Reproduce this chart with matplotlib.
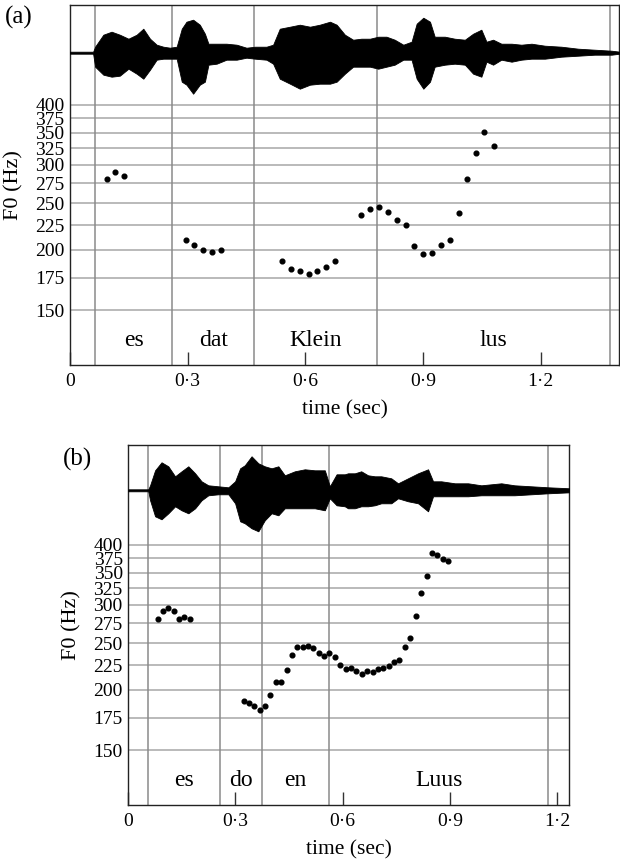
import numpy as np
import matplotlib
matplotlib.use('Agg')
import matplotlib.pyplot as plt
from matplotlib.ticker import NullLocator

plt.rcParams['font.family'] = ['Liberation Serif', 'DejaVu Serif']

# ---- panel (a) ----
a_bounds = [0.063, 0.261, 0.470, 0.784, 1.376]
a_words = ['es', 'dat', 'Klein', 'lus']
a_t = [0.094, 0.116, 0.138,
       0.295, 0.317, 0.339, 0.362, 0.384,
       0.541, 0.564, 0.586, 0.609, 0.631, 0.653, 0.675,
       0.743, 0.766, 0.788, 0.811, 0.833, 0.856, 0.878, 0.901, 0.923,
       0.945, 0.968, 0.991, 1.013, 1.035, 1.057, 1.080]
a_f0 = [281, 290, 284,
        210, 205, 200, 198, 200,
        190, 183, 181, 178, 181, 184, 190,
        236.5, 243, 245, 240, 231, 225.5, 203.5, 196, 197,
        205, 210, 239, 281, 318, 351, 328.5]
# waveform envelope (upper / lower amplitude)
a_env_t = [0.0, 0.059, 0.064, 0.085, 0.106, 0.127, 0.149, 0.170, 0.187, 0.204,
           0.221, 0.238, 0.255, 0.272, 0.285, 0.297, 0.314, 0.331, 0.344, 0.353,
           0.374, 0.399, 0.425, 0.450, 0.472, 0.501, 0.518, 0.535, 0.561, 0.586,
           0.612, 0.637, 0.663, 0.680, 0.701, 0.722, 0.743, 0.765, 0.786, 0.807,
           0.828, 0.850, 0.871, 0.884, 0.901, 0.918, 0.930, 0.956, 0.981, 1.007,
           1.028, 1.049, 1.062, 1.079, 1.100, 1.126, 1.151, 1.177, 1.211, 1.253,
           1.296, 1.338, 1.381, 1.402]
a_env_up = [1, 1, 6, 18, 21, 18, 14, 18, 24, 14,
            8, 6, 5, 6, 24, 31, 33, 28, 19, 9,
            9, 9, 8, 5, 6, 6, 8, 24, 26, 28,
            26, 28, 31, 28, 18, 13, 14, 14, 16, 16,
            13, 8, 11, 29, 35, 31, 16, 16, 14, 13,
            19, 23, 11, 13, 9, 9, 8, 9, 7, 6,
            4, 3, 2, 1]
a_env_dn = [1, 1, 14, 22, 24, 23, 16, 21, 26, 17,
            7, 6, 6, 6, 29, 32, 41, 32, 29, 12,
            11, 7, 7, 5, 6, 7, 11, 26, 31, 36,
            32, 31, 31, 29, 21, 14, 14, 14, 16, 14,
            12, 7, 7, 26, 36, 29, 14, 12, 11, 12,
            21, 24, 9, 12, 7, 9, 7, 6, 6, 4,
            3, 2, 2, 1]

# ---- panel (b) ----
b_bounds = [0.056, 0.256, 0.373, 0.5625, 1.176]
b_words = ['es', 'do', 'en', 'Luus']
b_t = [0.082, 0.097, 0.112, 0.127, 0.142, 0.157, 0.173,
       0.323, 0.338, 0.353, 0.368, 0.383, 0.397, 0.413, 0.428, 0.443, 0.458,
       0.473, 0.488, 0.503, 0.518, 0.533, 0.548, 0.563, 0.579, 0.593, 0.609,
       0.623, 0.638, 0.653, 0.668, 0.684, 0.699, 0.714, 0.729, 0.744, 0.758,
       0.774, 0.789, 0.804, 0.819, 0.835, 0.850, 0.863, 0.880, 0.895]
b_f0 = [281, 292, 296, 292, 280.5, 283, 281,
        190, 188, 185, 182, 185, 195, 208, 208, 220, 236,
        245, 245, 246, 244, 239, 235, 238, 234, 225, 221,
        222, 219, 216, 219, 218, 221, 221.5, 224, 228, 231,
        245, 256, 284, 317, 344.5, 384.5, 381, 374, 369]
b_env_t = [0.0, 0.056, 0.061, 0.075, 0.093, 0.112, 0.131, 0.149, 0.168, 0.187,
           0.205, 0.224, 0.252, 0.280, 0.299, 0.313, 0.326, 0.345, 0.364, 0.382,
           0.401, 0.420, 0.438, 0.466, 0.494, 0.522, 0.550, 0.564, 0.583, 0.606,
           0.615, 0.634, 0.652, 0.671, 0.690, 0.708, 0.736, 0.755, 0.783, 0.811,
           0.839, 0.853, 0.876, 0.914, 0.951, 0.988, 1.044, 1.081, 1.128, 1.175,
           1.236]
b_env_up = [1, 1, 5, 20, 28, 24, 14, 19, 24, 17,
            9, 5, 4, 3, 9, 22, 25, 34, 27, 24,
            22, 24, 15, 19, 21, 20, 20, 4, 16, 16,
            17, 17, 19, 15, 14, 14, 12, 7, 12, 17,
            21, 9, 9, 7, 7, 5, 7, 5, 4, 3,
            2]
b_env_dn = [1, 1, 10, 26, 29, 23, 16, 20, 23, 18,
            10, 5, 4, 4, 13, 31, 33, 38, 41, 30,
            23, 25, 18, 18, 18, 18, 20, 8, 15, 16,
            18, 18, 16, 16, 15, 13, 13, 8, 11, 13,
            21, 6, 6, 6, 6, 5, 5, 5, 4, 3,
            2]

f0_ticks = [150, 175, 200, 225, 250, 275, 300, 325, 350, 375, 400]
t_ticks = [0, 0.3, 0.6, 0.9, 1.2]
t_labels = ['0', '0\u00b73', '0\u00b76', '0\u00b79', '1\u00b72']

W, H = 620, 860
fig = plt.figure(figsize=(W / 100, H / 100), dpi=100)


def panel(left, top, right, bottom, wave_mid, tmax, bounds, words, t, f0,
          env_t, env_up, env_dn, tag, tag_xy):
    ax = fig.add_axes([left / W, 1 - bottom / H, (right - left) / W, (bottom - top) / H])
    ax.set_yscale('log')
    ax.set_ylim(115.5, 643)
    ax.set_xlim(0, tmax)
    ax.yaxis.set_minor_locator(NullLocator())
    ax.set_yticks(f0_ticks)
    ax.set_yticklabels([str(v) for v in f0_ticks])
    ax.set_xticks(t_ticks)
    ax.set_xticklabels(t_labels)
    ax.yaxis.grid(True, color='#b4b4b4', lw=1.3)
    ax.set_axisbelow(True)
    for b in bounds:
        ax.axvline(b, color='#8a8a8a', lw=1.1, zorder=1)
    for i, w in enumerate(words):
        ax.text((bounds[i] + bounds[i + 1]) / 2, 130, w, ha='center', va='center',
                fontsize=17)
    ax.plot(t, f0, 'o', color='black', ms=3.4, zorder=3)
    ax.tick_params(axis='y', length=0, pad=4, labelsize=14)
    ax.tick_params(axis='x', direction='in', length=9.5, width=1.0, color='#333333',
                   pad=6, labelsize=14)
    ax.xaxis.set_minor_locator(NullLocator())
    for s in ax.spines.values():
        s.set_linewidth(1.0)
        s.set_color('#222222')
    ax.set_xlabel('time (sec)', fontsize=15.5, labelpad=7)
    ax.set_ylabel('F0 (Hz)', fontsize=16)
    ax.yaxis.set_label_coords(-47 / (right - left), 0.5)

    half = wave_mid - top
    wv = fig.add_axes([left / W, 1 - (wave_mid + half) / H, (right - left) / W, 2 * half / H])
    wv.set_xlim(0, tmax)
    wv.set_ylim(-half, half)
    wv.axis('off')
    wv.patch.set_alpha(0)
    wv.fill_between(env_t, env_up, -np.array(env_dn), color='black', lw=0.6)

    fig.text(tag_xy[0] / W, 1 - tag_xy[1] / H, tag, ha='center', va='center', fontsize=18)
    return ax


panel(70, 5, 619, 365, 52.7, 1.40, a_bounds, a_words, a_t, a_f0,
      a_env_t, a_env_up, a_env_dn, '(a)', (18.5, 17.5))
panel(128.3, 445, 568.7, 805, 490.3, 1.2326, b_bounds, b_words, b_t, b_f0,
      b_env_t, b_env_up, b_env_dn, '(b)', (77.7, 459))

fig.savefig('out.png', dpi=100)
